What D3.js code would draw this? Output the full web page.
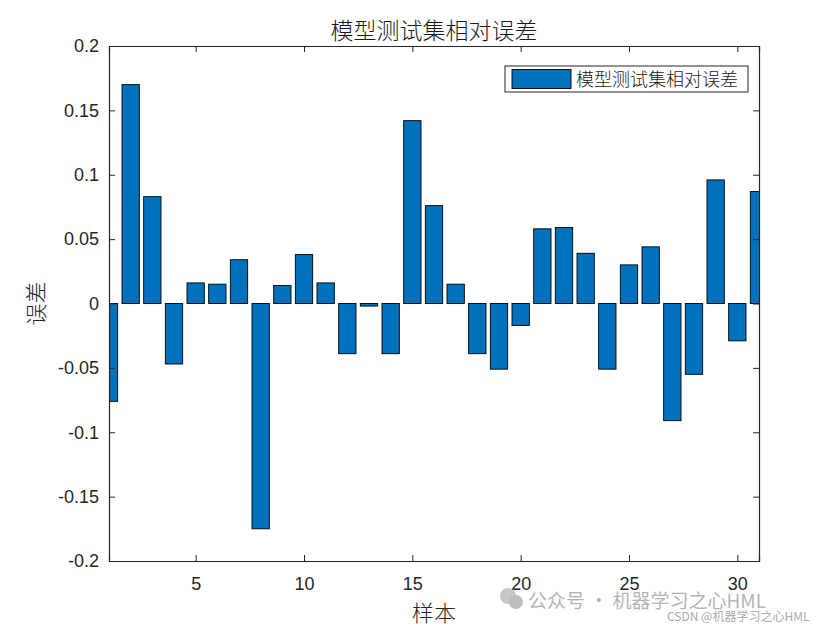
<!DOCTYPE html>
<html><head><meta charset="utf-8">
<script src="https://cdn.jsdelivr.net/npm/d3@7"></script>
<style>body{margin:0;background:#fff;} svg{display:block;}</style>
</head><body>
<svg id="c" width="840" height="630"></svg>
<script>
const samples = d3.range(1, 32);
const errors = [-0.076, 0.170, 0.083, -0.047, 0.016, 0.015, 0.034, -0.175, 0.014, 0.038,
  0.016, -0.039, -0.002, -0.039, 0.142, 0.076, 0.015, -0.039, -0.051, -0.017,
  0.058, 0.059, 0.039, -0.051, 0.030, 0.044, -0.091, -0.055, 0.096, -0.029, 0.087];
const xTicks = [5, 10, 15, 20, 25, 30];
const yTicks = [-0.2, -0.15, -0.1, -0.05, 0, 0.05, 0.1, 0.15, 0.2];
const titleText = "模型测试集相对误差";
const xLabel = "样本";
const yLabel = "误差";
const legendLabel = "模型测试集相对误差";

const L = 109, R = 759, T = 46, B = 561;
const svg = d3.select("#c");
const x = d3.scaleLinear().domain([1, 31]).range([L, R]);
const y = d3.scaleLinear().domain([-0.2, 0.2]).range([B, T]);
const bw = x(1.8) - x(1);

svg.append("defs").append("clipPath").attr("id", "clip")
  .append("rect").attr("x", L).attr("y", T).attr("width", R - L).attr("height", B - T);

svg.append("rect").attr("x", L).attr("y", T).attr("width", R - L).attr("height", B - T).attr("fill", "#fff");

svg.append("g").attr("clip-path", "url(#clip)")
  .selectAll("rect").data(samples).join("rect")
  .attr("x", d => x(d) - bw / 2)
  .attr("width", bw)
  .attr("y", (d, i) => y(Math.max(0, errors[i])))
  .attr("height", (d, i) => Math.abs(y(errors[i]) - y(0)))
  .attr("fill", "#0072BD")
  .attr("stroke", "#000")
  .attr("stroke-width", 0.9);

const font = "'Liberation Sans', Arial, sans-serif";
const tl = 6;
const gx = svg.append("g").attr("transform", `translate(0,${B})`)
  .call(d3.axisBottom(x).tickValues(xTicks).tickSize(-tl).tickPadding(16).tickFormat(d3.format("d")));
const gxt = svg.append("g").attr("transform", `translate(0,${T})`)
  .call(d3.axisTop(x).tickValues(xTicks).tickSize(-tl).tickFormat(""));
const gy = svg.append("g").attr("transform", `translate(${L},0)`)
  .call(d3.axisLeft(y).tickValues(yTicks).tickSize(-tl).tickPadding(10).tickFormat(d => d === 0 ? "0" : String(+d.toFixed(2))));
const gyr = svg.append("g").attr("transform", `translate(${R},0)`)
  .call(d3.axisRight(y).tickValues(yTicks).tickSize(-tl).tickFormat(""));

[gx, gxt, gy, gyr].forEach(g => {
  g.select(".domain").attr("stroke", "#262626").attr("stroke-width", 1.2);
  g.selectAll(".tick line").attr("stroke", "#262626").attr("stroke-width", 1);
  g.selectAll("text").attr("font-family", font).attr("font-size", 18).attr("fill", "#262626");
});

const cjk = "'Noto Sans CJK SC', 'Noto Sans CJK JP', sans-serif";
svg.append("text").attr("x", (L + R) / 2).attr("y", 39).attr("text-anchor", "middle")
  .attr("font-family", cjk).attr("font-weight", 300).attr("font-size", 23).attr("fill", "#1a1a1a").text(titleText);
svg.append("text").attr("x", (L + R) / 2).attr("y", 621).attr("text-anchor", "middle")
  .attr("font-family", cjk).attr("font-weight", 300).attr("font-size", 22).attr("fill", "#262626").text(xLabel);
svg.append("text").attr("transform", `translate(44,${(T + B) / 2}) rotate(-90)`).attr("text-anchor", "middle")
  .attr("font-family", cjk).attr("font-weight", 300).attr("font-size", 22).attr("fill", "#262626").text(yLabel);

const lg = svg.append("g");
lg.append("rect").attr("x", 505).attr("y", 66).attr("width", 243).attr("height", 26)
  .attr("fill", "#fff").attr("stroke", "#262626").attr("stroke-width", 1);
lg.append("rect").attr("x", 512).attr("y", 69.5).attr("width", 59).attr("height", 19)
  .attr("fill", "#0072BD").attr("stroke", "#000").attr("stroke-width", 0.9);
lg.append("text").attr("x", 576).attr("y", 86).attr("font-family", cjk).attr("font-weight", 300)
  .attr("font-size", 18).attr("fill", "#1a1a1a").text(legendLabel);

const wm = svg.append("g").attr("opacity", 0.55);
wm.append("circle").attr("cx", 508).attr("cy", 596).attr("r", 8).attr("fill", "#999");
wm.append("circle").attr("cx", 516).attr("cy", 602).attr("r", 7).attr("fill", "#888");
wm.append("text").attr("x", 528).attr("y", 608).attr("font-family", cjk).attr("font-size", 19)
  .attr("fill", "#777").text("公众号 · 机器学习之心HML");
svg.append("text").attr("x", 667).attr("y", 621).attr("font-family", cjk).attr("font-size", 12)
  .attr("fill", "#aaa").text("CSDN @机器学习之心HML");
</script>
</body></html>
